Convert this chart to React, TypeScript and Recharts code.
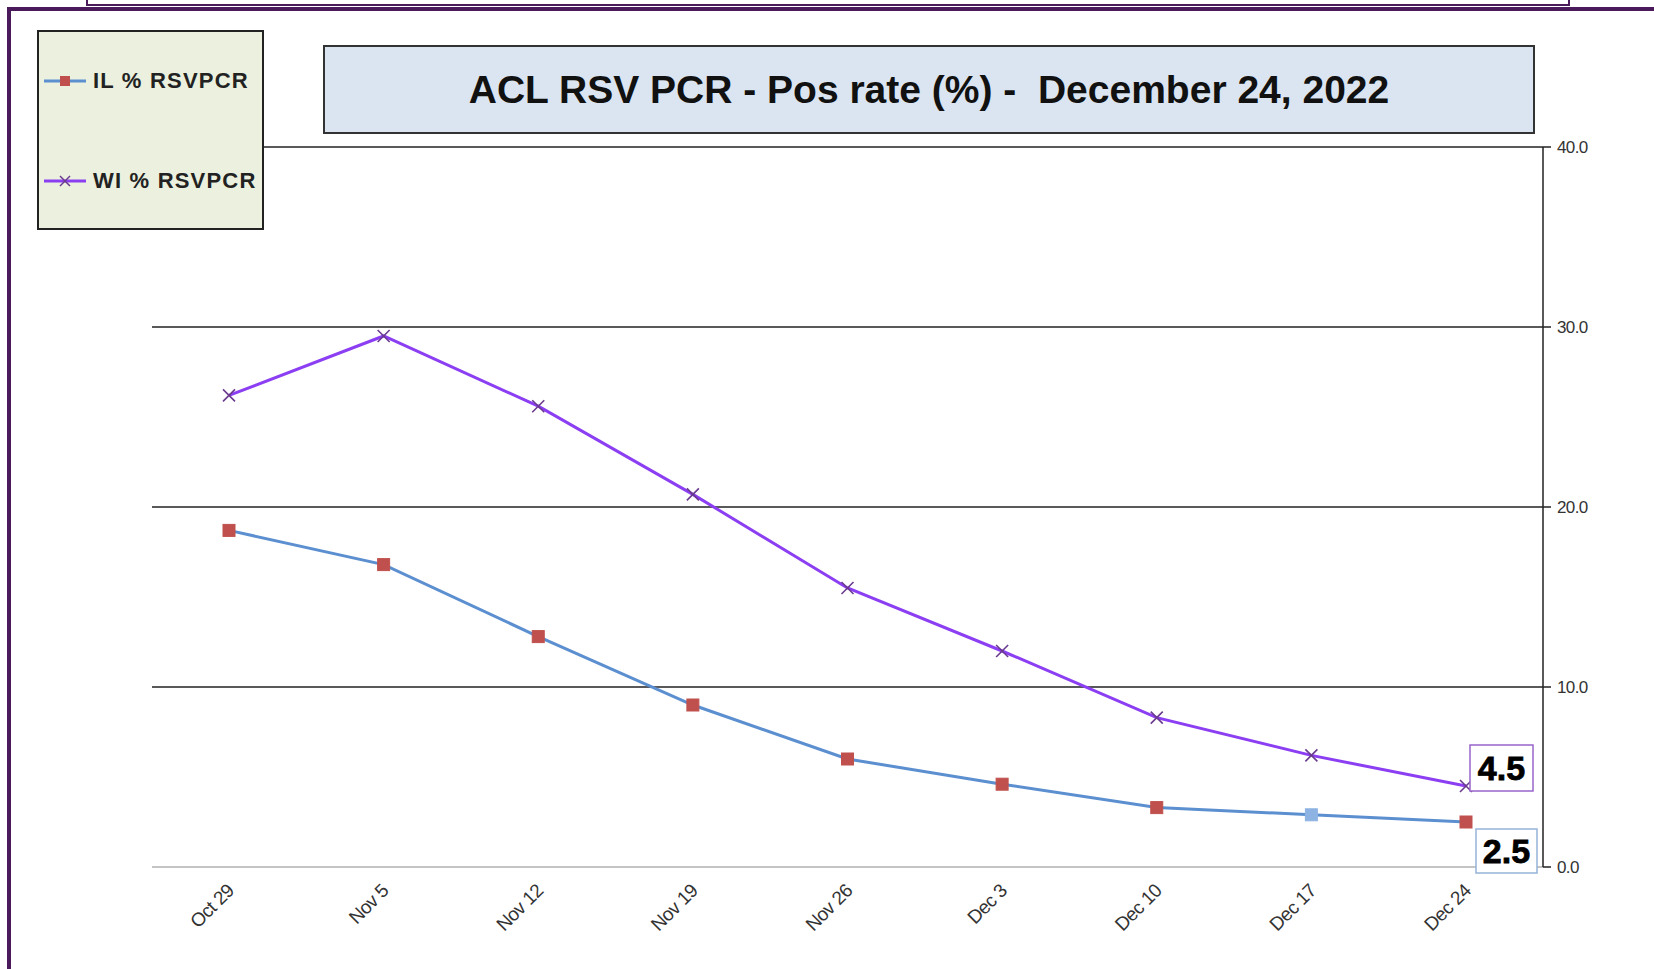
import React from "react";
import {
  LineChart,
  Line,
  XAxis,
  YAxis,
  CartesianGrid,
  LabelList,
} from "recharts";

const weeks = ["Oct 29", "Nov 5", "Nov 12", "Nov 19", "Nov 26", "Dec 3", "Dec 10", "Dec 17", "Dec 24"];
const ilValues = [18.7, 16.8, 12.8, 9.0, 6.0, 4.6, 3.3, 2.9, 2.5];
const wiValues = [26.2, 29.5, 25.6, 20.7, 15.5, 12.0, 8.3, 6.2, 4.5];
const yTicks = [0, 10, 20, 30, 40];
const gridValues = [10, 20, 30, 40];
const ilHighlightWeek = "Dec 17";

const dados = weeks.map((week, i) => ({ week, il: ilValues[i], wi: wiValues[i] }));

const FONT = "Arial, 'Liberation Sans', sans-serif";
const FRAME = "#4b1a5b";
const IL_LINE = "#5b8fd0";
const IL_MARK = "#c0504d";
const IL_MARK_HL = "#8db3e2";
const WI_LINE = "#8c3ff2";
const WI_MARK = "#6a3a8e";

const lastIdx = weeks.length - 1;

function XTick({ x, y, payload }: any) {
  const tx = x + 6;
  const ty = y + 25;
  return (
    <text
      x={tx}
      y={ty}
      transform={`rotate(-45 ${tx} ${ty})`}
      textAnchor="end"
      fontSize={19}
      fontFamily={FONT}
      fill="#333"
      letterSpacing={-0.6}
    >
      {payload.value}
    </text>
  );
}

function SquareDot({ cx, cy, payload }: any) {
  if (cx == null || cy == null) return null;
  const fill = payload.week === ilHighlightWeek ? IL_MARK_HL : IL_MARK;
  return <rect x={cx - 6} y={cy - 6} width={12} height={12} fill={fill} stroke={fill} />;
}

function CrossDot({ cx, cy }: any) {
  if (cx == null || cy == null) return null;
  return (
    <g stroke={WI_MARK} strokeWidth={1.6}>
      <line x1={cx - 6} y1={cy - 6} x2={cx + 6} y2={cy + 6} />
      <line x1={cx - 6} y1={cy + 6} x2={cx + 6} y2={cy - 6} />
    </g>
  );
}

function boxLabel(border: string, dx: number, dy: number, w: number, h: number) {
  return (props: any) => {
    const { x, y, value, index } = props;
    if (index !== lastIdx) return null;
    return (
      <g>
        <rect x={x + dx} y={y + dy} width={w} height={h} fill="#fff" stroke={border} strokeWidth={1.5} />
        <text
          x={x + dx + w / 2}
          y={y + dy + h / 2 + 12}
          textAnchor="middle"
          fontSize={34}
          fontWeight={700}
          fontFamily={FONT}
          fill="#000"
          stroke="#000"
          strokeWidth={0.8}
        >
          {Number(value).toFixed(1)}
        </text>
      </g>
    );
  };
}

export default function App() {
  return (
    <div
      style={{
        position: "absolute",
        left: 0,
        top: 0,
        width: 1654,
        height: 969,
        overflow: "hidden",
        background: "#fff",
        fontFamily: FONT,
      }}
    >
      {/* top box edge + outer frame */}
      <div
        style={{
          position: "absolute",
          left: 86,
          top: -12,
          width: 1480,
          height: 14,
          border: `2px solid ${FRAME}`,
        }}
      />
      <div
        style={{
          position: "absolute",
          left: 7,
          top: 7,
          width: 1700,
          height: 1000,
          border: `4px solid ${FRAME}`,
        }}
      />

      <div style={{ position: "absolute", left: 0, top: 0 }}>
        <LineChart
          width={1654}
          height={969}
          data={dados}
          margin={{ top: 147, right: 51, bottom: 42, left: 152 }}
        >
          <CartesianGrid
            horizontal
            vertical={false}
            horizontalValues={gridValues}
            stroke="#222"
            strokeWidth={1.5}
          />
          <XAxis
            dataKey="week"
            scale="point"
            padding={{ left: 77, right: 77 }}
            height={60}
            tickLine={false}
            tickSize={0}
            tickMargin={0}
            axisLine={{ stroke: "#c4c4c4", strokeWidth: 2 }}
            tick={<XTick />}
            interval={0}
          />
          <YAxis
            orientation="right"
            width={60}
            domain={[0, 40]}
            ticks={yTicks}
            tickFormatter={(v) => Number(v).toFixed(1)}
            axisLine={{ stroke: "#222", strokeWidth: 1.5 }}
            tickLine={{ stroke: "#222", strokeWidth: 1.5 }}
            tickSize={8}
            tickMargin={6}
            tick={{ fontSize: 17, fill: "#333", fontFamily: FONT, letterSpacing: -0.6 }}
          />
          <Line
            type="linear"
            dataKey="il"
            stroke={IL_LINE}
            strokeWidth={3}
            dot={<SquareDot />}
            activeDot={false}
            isAnimationActive={false}
          >
            <LabelList dataKey="il" content={boxLabel("#95b3d7", 10, 7, 61, 44)} />
          </Line>
          <Line
            type="linear"
            dataKey="wi"
            stroke={WI_LINE}
            strokeWidth={3}
            dot={<CrossDot />}
            activeDot={false}
            isAnimationActive={false}
          >
            <LabelList dataKey="wi" content={boxLabel("#9966cc", 4, -41, 63, 46)} />
          </Line>
        </LineChart>
      </div>

      {/* title box */}
      <div
        style={{
          position: "absolute",
          left: 323,
          top: 45,
          width: 1208,
          height: 85,
          background: "#dbe5f1",
          border: "2px solid #333",
          display: "flex",
          alignItems: "center",
          justifyContent: "center",
          fontSize: 39,
          fontWeight: 700,
          color: "#111",
          whiteSpace: "pre",
        }}
      >
        {"ACL RSV PCR - Pos rate (%) -  December 24, 2022"}
      </div>

      {/* legend box */}
      <div
        style={{
          position: "absolute",
          left: 37,
          top: 30,
          width: 223,
          height: 196,
          background: "#ebf1de",
          border: "2px solid #222",
        }}
      >
        <div style={{ position: "absolute", left: 5, top: 37, display: "flex", alignItems: "center" }}>
          <svg width={42} height={14}>
            <line x1={0} y1={7} x2={42} y2={7} stroke={IL_LINE} strokeWidth={3} />
            <rect x={16} y={2} width={10} height={10} fill={IL_MARK} />
          </svg>
          <span style={{ fontSize: 22, fontWeight: 700, color: "#222", marginLeft: 7, letterSpacing: 1.2, lineHeight: "24px" }}>
            IL % RSVPCR
          </span>
        </div>
        <div style={{ position: "absolute", left: 5, top: 137, display: "flex", alignItems: "center" }}>
          <svg width={42} height={14}>
            <line x1={0} y1={7} x2={42} y2={7} stroke={WI_LINE} strokeWidth={3} />
            <g stroke={WI_MARK} strokeWidth={1.5}>
              <line x1={16} y1={2} x2={26} y2={12} />
              <line x1={16} y1={12} x2={26} y2={2} />
            </g>
          </svg>
          <span style={{ fontSize: 22, fontWeight: 700, color: "#222", marginLeft: 7, letterSpacing: 1.2, lineHeight: "24px" }}>
            WI % RSVPCR
          </span>
        </div>
      </div>
    </div>
  );
}
